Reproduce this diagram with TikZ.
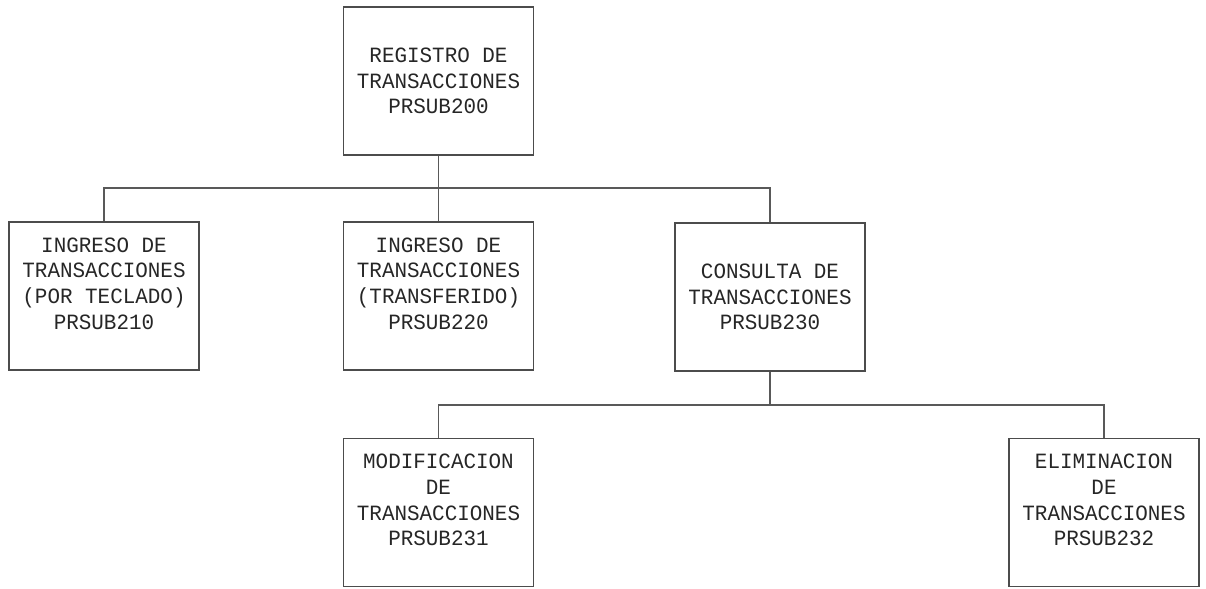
\documentclass[tikz,border=0pt]{standalone}
\usepackage{fontspec}
\newfontfamily\boxfont{Liberation Mono}[FakeStretch=0.96]
\usepackage{tikz}

\begin{document}
\begin{tikzpicture}[
  modulo/.style={draw=black!70,line width=1.1pt,minimum width=3.8cm,minimum height=2.96cm,
    align=center,text=black!85,font=\boxfont\fontsize{12.4pt}{14.6pt}\selectfont},
  arriba/.style={modulo,text depth=0.5cm},
  linea/.style={draw=black!65,line width=1.1pt}]
      \useasboundingbox (0,0) rectangle (24.12,11.78);
      \node[modulo] (p200) at (8.77,10.16) {REGISTRO DE\\TRANSACCIONES\\PRSUB200};
      \node[arriba] (p210) at (2.08,5.86) {INGRESO DE\\TRANSACCIONES\\(POR TECLADO)\\PRSUB210};
      \node[arriba] (p220) at (8.77,5.86) {INGRESO DE\\TRANSACCIONES\\(TRANSFERIDO)\\PRSUB220};
      \node[modulo] (p230) at (15.40,5.84) {CONSULTA DE\\TRANSACCIONES\\PRSUB230};
      \node[arriba] (p231) at (8.77,1.53) {MODIFICACION\\DE\\TRANSACCIONES\\PRSUB231};
      \node[arriba] (p232) at (22.08,1.53) {ELIMINACION\\DE\\TRANSACCIONES\\PRSUB232};
      \coordinate (n1) at (8.77,8.02);
      \coordinate (n2) at (15.40,3.68);
      \draw[linea] (p200.south) -- (n1);
      \draw[linea] (n1) -| (p210.north);
      \draw[linea] (n1) -- (p220.north);
      \draw[linea] (n1) -| (p230.north);
      \draw[linea] (p230.south) -- (n2);
      \draw[linea] (n2) -| (p231.north);
      \draw[linea] (n2) -| (p232.north);
\end{tikzpicture}
\end{document}
